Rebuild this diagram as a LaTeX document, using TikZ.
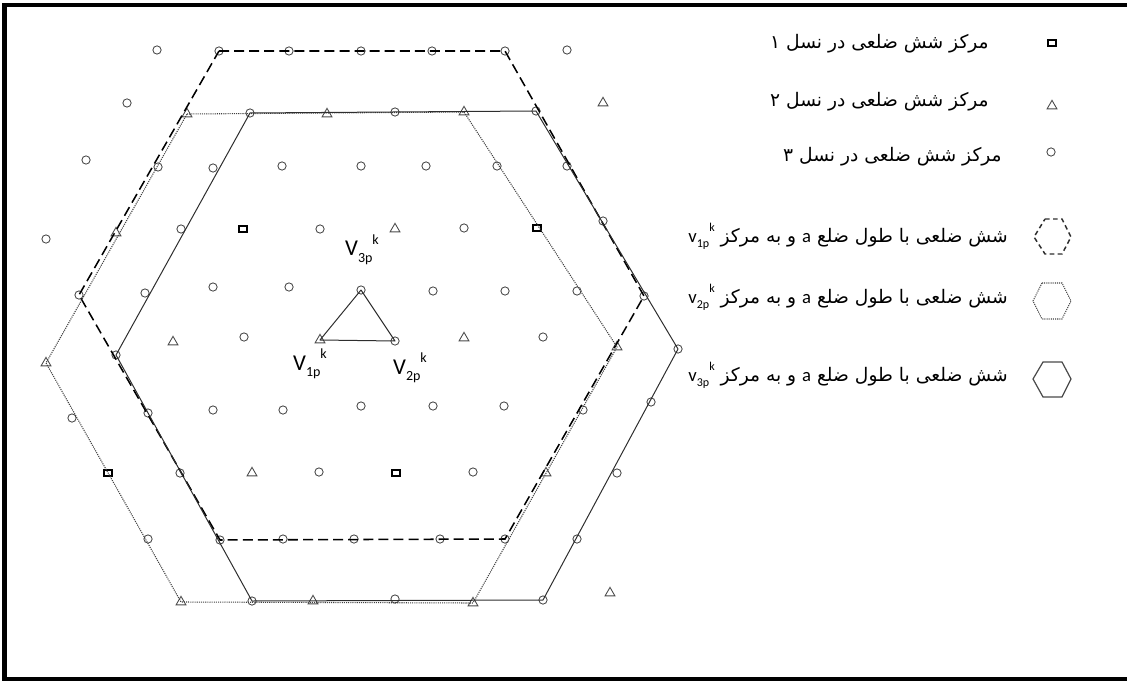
\documentclass[tikz,border=0pt]{standalone}
\usepackage{fontspec}
\usetikzlibrary{shapes.geometric}
\TeXXeTstate=1
\newfontfamily\arabicfont[Script=Arabic]{DejaVu Sans}
\newfontfamily\calib{Carlito}
\definecolor{mgray}{HTML}{4A4A4A}
\definecolor{lineg}{HTML}{2E2E2E}
\definecolor{dotg}{HTML}{404040}
\newcommand\vlab[2]{{\calib\fontsize{17}{17}\selectfont V\raisebox{-0.3em}{\fontsize{10.5}{10.5}\selectfont #1}\raisebox{0.5em}{\fontsize{10.5}{10.5}\selectfont #2}}}
\newcommand\vsm[2]{{\calib v\raisebox{-0.25em}{\fontsize{9}{9}\selectfont #1}\raisebox{0.6em}{\fontsize{9}{9}\selectfont #2}}}
\tikzset{
 cmark/.style={circle, draw=mgray, line width=0.65pt, inner sep=0pt, minimum size=6.2pt},
 tmark/.style={regular polygon, regular polygon sides=3, draw=mgray, line width=0.65pt, inner sep=0pt, minimum size=8.5pt},
 smark/.style={rectangle, draw=black, line width=1.6pt, inner sep=0pt, minimum width=5.4pt, minimum height=4.2pt},
 hexsolid/.style={draw=lineg, line width=0.75pt, line join=round},
 hexdash/.style={draw=black, line width=1.15pt, dash pattern=on 7.5pt off 3.8pt},
 hexdot/.style={draw=dotg, line width=0.8pt, dash pattern=on 0.8pt off 0.8pt},
 legtext/.style={anchor=east, font=\arabicfont\fontsize{14}{16}\selectfont, inner sep=0pt},
 vlabel/.style={inner sep=0pt},
}
\begin{document}
\begin{tikzpicture}[x=0.75pt, y=-0.75pt]
\useasboundingbox (0,0) rectangle (1127,681);
% frame
\draw[line width=3.3pt, line join=miter] (1127,5.3) -- (4.5,5.3) -- (4.5,679) -- (1127,679);
% lattice points m/n/x/y/type
\foreach \m/\n/\x/\y/\t in {
 -5/5/157/50/cmark, -4/5/219/51/cmark, -3/5/289/51/cmark, -2/5/361/51/cmark, -1/5/432/51/cmark, 0/5/505/51/cmark, 1/5/567/50/cmark,
 -5/4/127/103/cmark, -4/4/187/114/tmark, -3/4/250/113/cmark, -2/4/327/114/tmark, -1/4/395/112/cmark, 0/4/464/112/tmark, 1/4/536/111/cmark, 2/4/603/103/tmark,
 -5/3/86/160/cmark, -4/3/158/167/cmark, -3/3/213/168/cmark, -2/3/282/166/cmark, -1/3/361/166/cmark, 0/3/426/166/cmark, 1/3/497/166/cmark, 2/3/567/166/cmark,
 -5/2/46/239/cmark, -4/2/116/233/tmark, -3/2/181/229/cmark, -2/2/243/229/smark, -1/2/320/229/cmark, 0/2/395/229/tmark, 1/2/464/228/cmark, 2/2/537/228/smark, 3/2/603/221/cmark,
 -4/1/79/295/cmark, -3/1/145/293/cmark, -2/1/213/287/cmark, -1/1/289/287/cmark, 0/1/361/290/cmark, 1/1/433/291/cmark, 2/1/505/291/cmark, 3/1/577/291/cmark, 4/1/644/296/cmark,
 -4/0/46/363/tmark, -3/0/116/355/cmark, -2/0/173/342/tmark, -1/0/244/337/cmark, 0/0/320/340/tmark, 1/0/395/341/cmark, 2/0/464/338/tmark, 3/0/543/337/cmark, 4/0/617/347/tmark, 5/0/678/349/cmark,
 -3/-1/72/418/cmark, -2/-1/148/413/cmark, -1/-1/213/410/cmark, 0/-1/283/410/cmark, 1/-1/361/406/cmark, 2/-1/433/406/cmark, 3/-1/504/406/cmark, 4/-1/583/410/cmark, 5/-1/651/402/cmark,
 -2/-2/108/473/smark, -1/-2/180/473/cmark, 0/-2/252/473/tmark, 1/-2/319/472/cmark, 2/-2/396/473/smark, 3/-2/473/472/cmark, 4/-2/546/473/tmark, 5/-2/617/473/cmark,
 -1/-3/148/539/cmark, 0/-3/220/540/cmark, 1/-3/283/539/cmark, 2/-3/354/539/cmark, 3/-3/440/539/cmark, 4/-3/505/539/cmark, 5/-3/577/539/cmark,
 0/-4/181/602/tmark, 1/-4/252/601/cmark, 2/-4/313/601/tmark, 3/-4/395/599/cmark, 4/-4/473/603/tmark, 5/-4/543/600/cmark, 6/-4/610/593/tmark}
 {\node[\t] (p\m r\n) at (\x,\y) {};}
% hexagon centred at V3 (dashed)
\draw[hexdash] (p-4r5.center) -- (p0r5.center) -- (p4r1.center) -- (p4r-3.center) -- (p0r-3.center) -- (p-4r1.center) -- cycle;
% hexagon centred at V1 (dotted)
\draw[hexdot] (p-4r4.center) -- (p0r4.center) -- (p4r0.center) -- (p4r-4.center) -- (p0r-4.center) -- (p-4r0.center) -- cycle;
% hexagon centred at V2 (solid)
\draw[hexsolid] (p-3r4.center) -- (p1r4.center) -- (p5r0.center) -- (p5r-4.center) -- (p1r-4.center) -- (p-3r0.center) -- cycle;
% triangle V1 V2 V3
\draw[hexsolid] (p0r0.center) -- (p1r0.center) -- (p0r1.center) -- cycle;
% vertex labels
\node[vlabel] (l3) at (362,250) {\vlab{3p}{k}};
\node[vlabel] (l1) at (310,364) {\vlab{1p}{k}};
\node[vlabel] (l2) at (410,368) {\vlab{2p}{k}};
% legend markers
\node[smark] (k1) at (1052,43) {};
\node[tmark] (k2) at (1052,106) {};
\node[cmark] (k3) at (1051,152) {};
% legend texts
\node[legtext] (t1) at (989,44) {\beginR مرکز شش ضلعی در نسل ۱\endR};
\node[legtext] (t2) at (989,102) {\beginR مرکز شش ضلعی در نسل ۲\endR};
\node[legtext] (t3) at (1002,157) {\beginR مرکز شش ضلعی در نسل ۳\endR};
\node[legtext] (t4) at (1008,236) {\beginR شش ضلعی با طول ضلع \beginL{\calib a}\endL{} و به مرکز \beginL\vsm{1p}{k}\endL\endR};
\node[legtext] (t5) at (1008,297) {\beginR شش ضلعی با طول ضلع \beginL{\calib a}\endL{} و به مرکز \beginL\vsm{2p}{k}\endL\endR};
\node[legtext] (t6) at (1008,375) {\beginR شش ضلعی با طول ضلع \beginL{\calib a}\endL{} و به مرکز \beginL\vsm{3p}{k}\endL\endR};
% legend hexagon icons
\draw[draw=lineg, line width=1.1pt, dash pattern=on 3.5pt off 2.5pt] (1045,219) -- (1062,219) -- (1071,237) -- (1062,254) -- (1045,254) -- (1034,237) -- cycle;
\draw[hexdot] (1042,283) -- (1062,283) -- (1071,301) -- (1062,319) -- (1042,319) -- (1033,301) -- cycle;
\draw[draw=mgray, line width=0.9pt] (1043,362) -- (1062,362) -- (1071,379) -- (1062,397) -- (1043,397) -- (1033,379) -- cycle;
\end{tikzpicture}
\end{document}
